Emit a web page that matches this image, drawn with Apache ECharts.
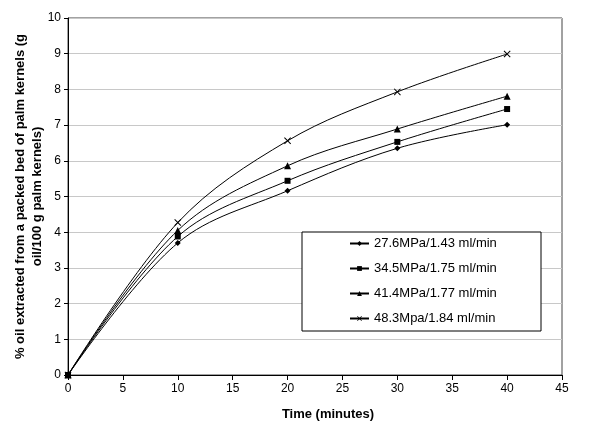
<!DOCTYPE html>
<html>
<head>
<meta charset="utf-8">
<script src="https://cdn.jsdelivr.net/npm/echarts@6/dist/echarts.min.js"></script>
<style>html,body{margin:0;padding:0;background:#fff}#c{width:593px;height:421px}</style>
</head>
<body>
<div id="c"></div>
<script>
const times = [0, 10, 20, 30, 40];
const seriesNames = ['27.6MPa/1.43 ml/min', '34.5MPa/1.75 ml/min', '41.4MPa/1.77 ml/min', '48.3Mpa/1.84 ml/min'];
const s1 = [0, 3.70, 5.16, 6.35, 7.01];
const s2 = [0, 3.88, 5.44, 6.53, 7.45];
const s3 = [0, 4.05, 5.86, 6.89, 7.81];
const s4 = [0, 4.27, 6.56, 7.93, 8.99];
const allValues = [s1, s2, s3, s4];

const xPath = 'path://M0,1L1,0L5,4L9,0L10,1L6,5L10,9L9,10L5,6L1,10L0,9L4,5Z';
const symbols = ['diamond', 'rect', 'triangle', xPath];
const sizes = [6, 6, 7, 7];

const chart = echarts.init(document.getElementById('c'));
const font = 'Liberation Sans, Arial, sans-serif';
chart.setOption({
  animation: false,
  textStyle: { fontFamily: font },
  grid: { left: 68, right: 31, top: 18, bottom: 46, show: true, borderColor: '#444', borderWidth: 1, outerBoundsMode: 'none', containLabel: false },
  legend: {
    orient: 'vertical',
    left: 302, top: 232,
    padding: [4, 43, 5, 47],
    itemGap: 10,
    itemWidth: 19, itemHeight: 6,
    backgroundColor: '#fff',
    borderColor: '#000', borderWidth: 1, borderRadius: 0,
    textStyle: { fontFamily: font, fontSize: 13, color: '#000', width: 124, lineHeight: 15 },
    data: seriesNames
  },
  xAxis: {
    type: 'value', min: 0, max: 45, interval: 5,
    name: 'Time (minutes)', nameLocation: 'middle', nameGap: 33,
    nameMoveOverlap: false,
    nameTextStyle: { fontFamily: font, fontSize: 13, fontWeight: 'bold', color: '#000', padding: [0, 0, 0, 26] },
    axisLine: { lineStyle: { color: '#000' } },
    axisTick: { show: true, length: 5, lineStyle: { color: '#000' } },
    axisLabel: { fontFamily: font, fontSize: 12, color: '#000', margin: 8 },
    splitLine: { show: false }
  },
  yAxis: {
    type: 'value', min: 0, max: 10, interval: 1,
    name: '% oil extracted from a packed bed of palm kernels (g\noil/100 g palm kernels)',
    nameLocation: 'middle', nameGap: 22, nameRotate: 90,
    nameMoveOverlap: false,
    nameTextStyle: { fontFamily: font, fontSize: 13, fontWeight: 'bold', color: '#000', lineHeight: 17 },
    axisLine: { show: true, lineStyle: { color: '#000' } },
    axisTick: { show: true, length: 4, lineStyle: { color: '#000' } },
    axisLabel: { fontFamily: font, fontSize: 12, color: '#000', margin: 7 },
    splitLine: { show: true, lineStyle: { color: '#c8c8c8', width: 1 } }
  },
  series: allValues.map((vals, i) => ({
    name: seriesNames[i],
    type: 'line',
    smooth: 0.35,
    data: times.map((t, j) => [t, vals[j]]),
    symbol: symbols[i],
    symbolSize: sizes[i],
    showAllSymbol: true,
    lineStyle: { color: '#000', width: 1 },
    itemStyle: { color: '#000' },
    emphasis: { disabled: true }
  }))
});
</script>
</body>
</html>
